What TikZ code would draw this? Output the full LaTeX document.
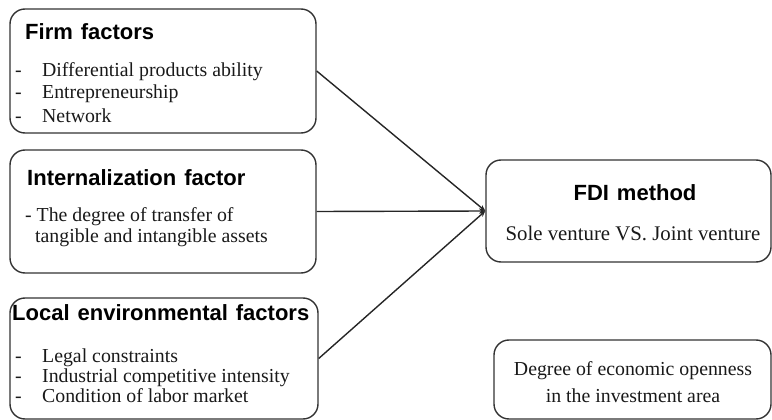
\documentclass[tikz,border=0pt]{standalone}
\usepackage{fontspec}
\setmainfont{Liberation Serif}
\newfontfamily\headsans{Liberation Sans}[WordSpace=1.3]
\usetikzlibrary{arrows.meta}
\tikzset{
  factorbox/.style={draw=black!80, line width=1.4pt, rounded corners=15pt, inner sep=0pt},
  headtext/.style={inner sep=0pt, font=\headsans\bfseries\fontsize{22}{24}\selectfont},
  itemtext/.style={inner sep=0pt, text=black!90, font=\fontsize{19.8}{22}\selectfont},
  link/.style={line width=1.4pt, draw=black!85, -{Stealth[length=6pt,width=5pt]}}
}
\newcommand{\dashitem}[1]{\makebox[27pt][l]{-}#1}

\begin{document}
\begin{tikzpicture}[x=1pt, y=-1pt]
			%%%%% START %%%%%
			\useasboundingbox (0,0) rectangle (772,420);
			
			\node[factorbox, minimum width=306pt, minimum height=124pt] (firm) at (163,71) {};
			\node[headtext, anchor=base west] (firmhead) at (25,40) {Firm factors};
			\node[itemtext, anchor=base west] (firmone) at (15,77) {\dashitem{Differential products ability}};
			\node[itemtext, anchor=base west] (firmtwo) at (15,99) {\dashitem{Entrepreneurship}};
			\node[itemtext, anchor=base west] (firmthree) at (15,122) {\dashitem{Network}};
			
			\node[factorbox, minimum width=306pt, minimum height=123pt] (intern) at (163,211.5) {};
			\node[headtext, anchor=base west] (internhead) at (27,185) {Internalization factor};
			\node[itemtext, anchor=base west] (internone) at (25,221) {- The degree of transfer of};
			\node[itemtext, anchor=base west] (interntwo) at (35,242) {tangible and intangible assets};
			
			\node[factorbox, minimum width=308pt, minimum height=121pt] (local) at (164,358.5) {};
			\node[headtext, anchor=base west] (localhead) at (12,320) {Local environmental factors};
			\node[itemtext, anchor=base west] (localone) at (15,362) {\dashitem{Legal constraints}};
			\node[itemtext, anchor=base west] (localtwo) at (15,382) {\dashitem{Industrial competitive intensity}};
			\node[itemtext, anchor=base west] (localthree) at (15,402) {\dashitem{Condition of labor market}};
			
			\node[factorbox, minimum width=285pt, minimum height=102pt] (fdi) at (628.5,211) {};
			\node[headtext, anchor=base] (fdihead) at (635,200) {FDI method};
			\node[itemtext, anchor=base, font=\fontsize{20.8}{22}\selectfont] (fdiline) at (633,240) {Sole venture VS. Joint venture};
			
			\node[factorbox, minimum width=277pt, minimum height=79pt] (open) at (632.5,379.5) {};
			\node[itemtext, anchor=base] (openone) at (633,375) {Degree of economic openness};
			\node[itemtext, anchor=base] (opentwo) at (633,402) {in the investment area};
			
			\draw[link] (firm.east) -- (fdi.west);
			\draw[link] (intern.east) -- (fdi.west);
			\draw[link] (local.east) -- (fdi.west);
			
			%%%%% END %%%%%
\end{tikzpicture}
\end{document}
